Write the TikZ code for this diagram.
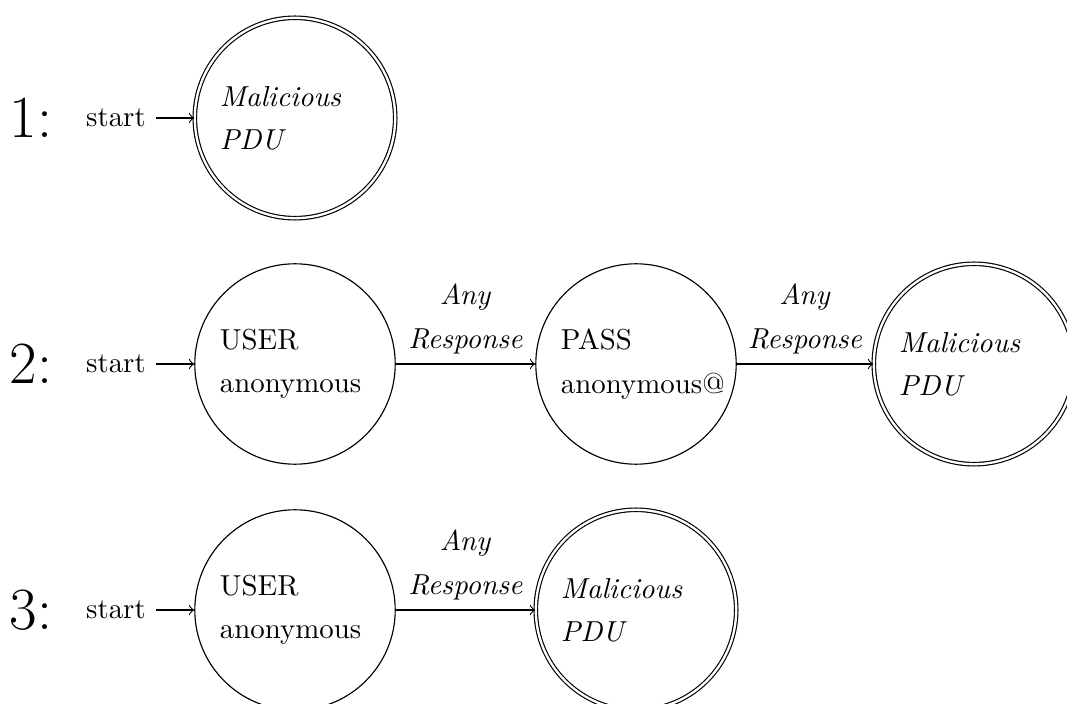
\documentclass[tikz,border=0pt]{standalone}
\usetikzlibrary{automata}
\begin{document}
\begin{tikzpicture}[x=0.3463pt,y=-0.3463pt,
  st/.style={circle,draw,minimum size=69.4pt,inner sep=0pt,text width=52pt,align=left},
  acc/.style={st,double,double distance=0.8pt},
  rowlbl/.style={font=\huge},
  starttxt/.style={anchor=east},
  lbl/.style={above,align=center}]
\useasboundingbox (0,0) rectangle (1067,704);

% Row 1
\node[rowlbl] (n1) at (31,118) {1:};
\node[starttxt] (s1) at (156,118) {start};
\node[acc] (m1) at (295,118) {\textit{Malicious}\\[3pt]\textit{PDU}};
\draw[->] (s1) -- (m1);

% Row 2
\node[rowlbl] (n2) at (31,364) {2:};
\node[starttxt] (s2) at (156,364) {start};
\node[st] (u2) at (295,364) {USER\\[3pt]anonymous};
\node[st] (p2) at (636,364) {PASS\\[3pt]anonymous@};
\node[acc] (m2) at (974,364) {\textit{Malicious}\\[3pt]\textit{PDU}};
\draw[->] (s2) -- (u2);
\draw[->] (u2) -- node[lbl] (e21) {\textit{Any}\\[3pt]\textit{Response}} (p2);
\draw[->] (p2) -- node[lbl] (e22) {\textit{Any}\\[3pt]\textit{Response}} (m2);

% Row 3
\node[rowlbl] (n3) at (31,610) {3:};
\node[starttxt] (s3) at (156,610) {start};
\node[st] (u3) at (295,610) {USER\\[3pt]anonymous};
\node[acc] (m3) at (636,610) {\textit{Malicious}\\[3pt]\textit{PDU}};
\draw[->] (s3) -- (u3);
\draw[->] (u3) -- node[lbl] (e31) {\textit{Any}\\[3pt]\textit{Response}} (m3);
\end{tikzpicture}
\end{document}
